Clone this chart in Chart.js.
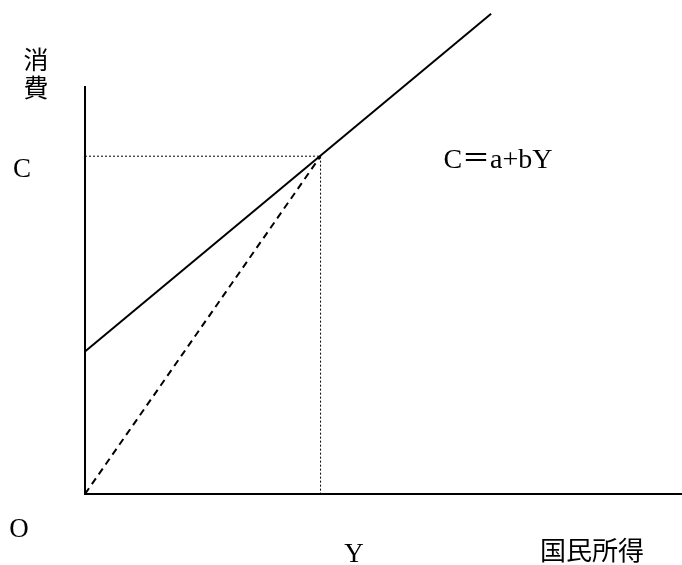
<!DOCTYPE html>
<html>
<head>
<meta charset="utf-8">
<script src="https://cdn.jsdelivr.net/npm/chart.js@4/dist/chart.umd.min.js"></script>
<style>
  html, body { margin: 0; padding: 0; background: #fff; }
</style>
</head>
<body>
<canvas id="chart" width="682" height="565"></canvas>
<script>
'use strict'

const ctx = document.getElementById('chart')

// consumption function C = a + bY
const consX = [0, 10]
const consY = [3.5, 11.8]
// ray from origin to the point (Y, C)
const rayX = [0, 5.8]
const rayY = [0, 8.3]
// guide lines at the point (Y, C)
const guideX = [0, 5.8, 5.8]
const guideY = [8.3, 8.3, 0]

const xMax = 14.7
const yMax = 10

const toPoints = (xs, ys) => xs.map((x, i) => ({ x: x, y: ys[i] }))

const serif = "'Liberation Serif', 'Noto Sans CJK JP', serif"
const labels = [
  { text: 'C', x: 22, y: 170, size: 27 },
  { text: 'C＝a+bY', x: 498, y: 161, size: 28 },
  { text: 'O', x: 19, y: 530, size: 27 },
  { text: 'Y', x: 354, y: 555, size: 27 },
  { text: '国民所得', x: 592, y: 553, size: 26 },
  { text: '消', x: 36, y: 62, size: 25 },
  { text: '費', x: 36, y: 90, size: 25 },
]

const textPlugin = {
  id: 'texts',
  afterDraw(chart) {
    const c = chart.ctx
    c.save()
    c.fillStyle = '#000'
    c.textAlign = 'center'
    c.textBaseline = 'middle'
    labels.forEach(l => {
      c.font = l.size + 'px ' + serif
      c.fillText(l.text, l.x, l.y)
    })
    c.restore()
  }
}

const data = {
  datasets: [{
    data: toPoints(consX, consY),
    borderColor: '#000',
    borderWidth: 2,
    clip: false,
  }, {
    data: toPoints(rayX, rayY),
    borderColor: '#000',
    borderWidth: 2,
    borderDash: [7, 5],
  }, {
    data: toPoints(guideX, guideY),
    borderColor: '#000',
    borderWidth: 1,
    borderDash: [2, 2],
  }]
}

const options = {
  responsive: false,
  animation: false,
  devicePixelRatio: 1,
  layout: { padding: { left: 85, top: 87, right: 0, bottom: 71 } },
  plugins: { legend: { display: false }, tooltip: { enabled: false } },
  elements: { point: { radius: 0 }, line: { tension: 0 } },
  scales: {
    x: {
      type: 'linear', min: 0, max: xMax,
      grid: { display: false, drawTicks: false },
      ticks: { display: false },
      border: { display: true, color: '#000', width: 2 },
      afterFit: s => { s.height = 0 },
    },
    y: {
      type: 'linear', min: 0, max: yMax,
      grid: { display: false, drawTicks: false },
      ticks: { display: false },
      border: { display: true, color: '#000', width: 2 },
      afterFit: s => { s.width = 0 },
    }
  }
}

new Chart(ctx, {
  type: 'scatter',
  data: { datasets: data.datasets.map(d => Object.assign({ showLine: true }, d)) },
  options: options,
  plugins: [textPlugin]
})
</script>
</body>
</html>
